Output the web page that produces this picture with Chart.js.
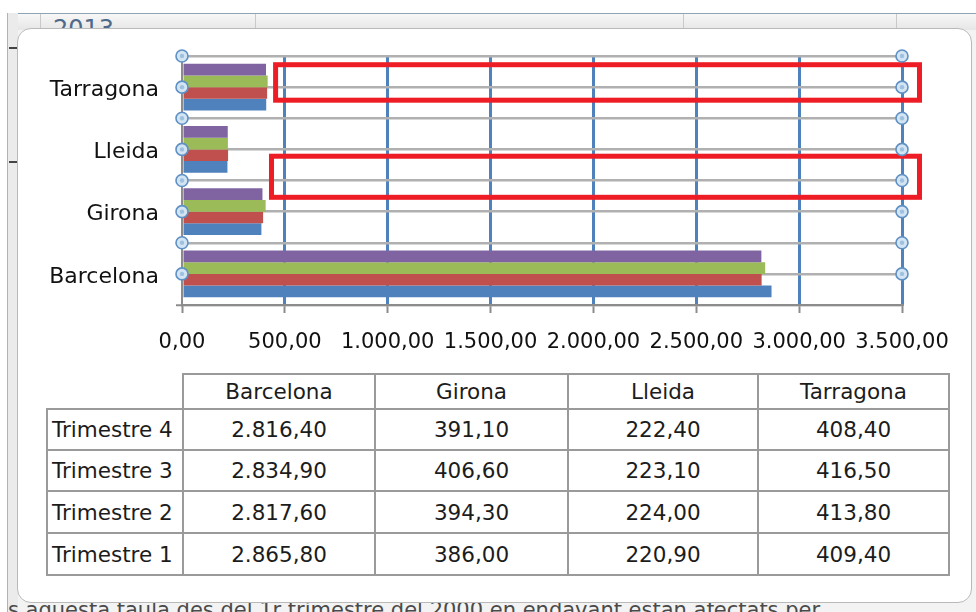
<!DOCTYPE html>
<html>
<head>
<meta charset="utf-8">
<title>Trimestres per província</title>
<script src="https://cdn.jsdelivr.net/npm/chart.js@4.4.0/dist/chart.umd.min.js"></script>
<style>
  html, body { margin: 0; padding: 0; }
  body {
    width: 976px; height: 612px; position: relative; overflow: hidden;
    background: #f3f3f3; font-family: "DejaVu Sans", sans-serif;
  }
  .top-white { position: absolute; left: 0; top: 0; width: 976px; height: 13px; background: #fff; }
  .left-white { position: absolute; left: 0; top: 0; width: 7px; height: 612px; background: #fff; }
  .band {
    position: absolute; left: 7px; top: 13px; width: 969px; height: 16px;
    background: linear-gradient(#f7f7f7, #e6e6e6); border-top: 1px solid #8ea3b3;
  }
  .band .sep { position: absolute; top: 0; width: 1px; height: 16px; background: #c9c9c9; }
  .band .year { position: absolute; left: 46px; top: 1px; font-size: 24px; color: #4d6a8a; line-height: 28px; }
  .strip { position: absolute; left: 7px; top: 13px; width: 10px; height: 599px; background: #ebebeb; border-left: 1px solid #a9b4bd; }
  .strip .mark { position: absolute; left: 1px; width: 8px; height: 2px; background: #444; }
  .note {
    position: absolute; left: 8px; top: 598px; white-space: nowrap;
    font-size: 21px; color: #4a4a4a;
  }
  .frame {
    position: absolute; left: 17px; top: 28px; width: 955px; height: 575px;
    box-sizing: border-box; background: #fff; border: 1px solid #b9b9b9;
    border-radius: 14px; z-index: 1;
  }
  table#dataTable {
    position: absolute; left: 46px; top: 373px; z-index: 2;
    border-collapse: collapse; table-layout: fixed;
    font-size: 21.5px; color: #1c1c1c;
  }
  #dataTable td, #dataTable th {
    border: 2px solid #9a9a9a; text-align: center; font-weight: normal;
    padding: 0; white-space: nowrap; overflow: hidden;
  }
  #dataTable th.blank { border-top: none; border-left: none; }
  #dataTable td.rowhead { text-align: left; padding-left: 4px; }
  canvas#chart { position: absolute; left: 0; top: 0; z-index: 3; }
</style>
</head>
<body>
<div class="top-white"></div>
<div class="left-white"></div>
<div class="band">
  <div class="year">2013</div>
  <div class="sep" style="left:33px"></div>
  <div class="sep" style="left:248px"></div>
  <div class="sep" style="left:676px"></div>
  <div class="sep" style="left:889px"></div>
</div>
<div class="strip">
  <div class="mark" style="top:34px"></div>
  <div class="mark" style="top:148px"></div>
</div>
<div class="note">s aquesta taula des del 1r trimestre del 2000 en endavant estan afectats per</div>
<div class="frame"></div>

<table id="dataTable"></table>
<canvas id="chart" width="976" height="612"></canvas>

<script>
// categories (bottom to top in the chart, left to right in the table)
const cities = ["Barcelona", "Girona", "Lleida", "Tarragona"];

// series, in table order (top row first)
const seriesNames = ["Trimestre 4", "Trimestre 3", "Trimestre 2", "Trimestre 1"];
const trimestre4 = [2816.40, 391.10, 222.40, 408.40];
const trimestre3 = [2834.90, 406.60, 223.10, 416.50];
const trimestre2 = [2817.60, 394.30, 224.00, 413.80];
const trimestre1 = [2865.80, 386.00, 220.90, 409.40];
const seriesColors = ["#8064a2", "#9bbb59", "#c0504d", "#4f81bd"];

// value axis
const xMin = 0;
const xMax = 3500;
const xStep = 500;

// red highlight boxes drawn on the picture (value / category units)
const boxFrom = [455, 435];
const boxTo = [3585, 3585];
const boxTop = [3.36, 1.89];
const boxBottom = [2.79, 1.23];

const allSeries = [trimestre4, trimestre3, trimestre2, trimestre1];
const FONT = "'DejaVu Sans', sans-serif";

// 2816.4 -> "2.816,40"
function fmt(v) {
    const parts = Number(v).toFixed(2).split(".");
    return parts[0].replace(/\B(?=(\d{3})+(?!\d))/g, ".") + "," + parts[1];
}

// --- data table under the chart ---
const colWidths = [136, 192, 193, 190, 191];
const rowHeights = [35, 41, 41, 42, 42];
const table = document.getElementById("dataTable");
let html = "<colgroup>" + colWidths.map(w => `<col style="width:${w}px">`).join("") + "</colgroup>";
html += `<tr style="height:${rowHeights[0]}px"><th class="blank"></th>` +
    cities.map(c => `<th>${c}</th>`).join("") + "</tr>";
seriesNames.forEach((name, i) => {
    html += `<tr style="height:${rowHeights[i + 1]}px"><td class="rowhead">${name}</td>` +
        allSeries[i].map(v => `<td>${fmt(v)}</td>`).join("") + "</tr>";
});
table.innerHTML = html;

// --- selection handles and red boxes ---
const overlayPlugin = {
    id: "overlay",
    afterDatasetsDraw(chart) {
        const { ctx, scales: { x, y } } = chart;
        ctx.save();

        ctx.strokeStyle = "#ee1c24";
        ctx.lineWidth = 5;
        boxFrom.forEach((from, i) => {
            const x0 = x.getPixelForValue(from);
            const x1 = x.getPixelForValue(boxTo[i]);
            const y0 = y.getPixelForValue(boxTop[i]);
            const y1 = y.getPixelForValue(boxBottom[i]);
            ctx.strokeRect(x0, y0, x1 - x0, y1 - y0);
        });

        // handles on every gray line except the bottom one
        const spots = [];
        for (let i = 0; i < cities.length; i++) {
            spots.push(i, i + 0.5);
        }
        [xMin, xMax].forEach(v => {
            const px = x.getPixelForValue(v);
            spots.forEach(s => {
                const py = y.getPixelForValue(s);
                ctx.beginPath();
                ctx.arc(px, py, 6, 0, Math.PI * 2);
                ctx.fillStyle = "#d3e4f3";
                ctx.fill();
                ctx.lineWidth = 1.6;
                ctx.strokeStyle = "#5e90c4";
                ctx.stroke();
                ctx.beginPath();
                ctx.arc(px, py, 2.2, 0, Math.PI * 2);
                ctx.fillStyle = "#9fc1e0";
                ctx.fill();
            });
        });
        ctx.restore();
    }
};

new Chart(document.getElementById("chart"), {
    type: "bar",
    data: {
        labels: cities,
        datasets: seriesNames.map((name, i) => ({
            label: name,
            data: allSeries[i],
            backgroundColor: seriesColors[i],
            borderWidth: 0,
            categoryPercentage: 0.755,
            barPercentage: 1
        }))
    },
    options: {
        indexAxis: "y",
        responsive: false,
        animation: false,
        layout: { padding: { top: 56, right: 74, left: 0, bottom: 0 } },
        plugins: { legend: { display: false }, tooltip: { enabled: false } },
        scales: {
            x: {
                type: "linear",
                min: xMin,
                max: xMax,
                ticks: {
                    stepSize: xStep,
                    autoSkip: false,
                    maxRotation: 0,
                    padding: 17,
                    color: "#111",
                    font: { family: FONT, size: 21 },
                    callback: v => fmt(v)
                },
                grid: {
                    color: c => (c.tick && c.tick.value === xMin ? "rgba(0,0,0,0)" : "#4f81bd"),
                    lineWidth: 3,
                    tickLength: 8,
                    tickColor: "#8c8c8c",
                    tickWidth: 2
                },
                border: { color: "#8c8c8c", width: 2 },
                afterFit: s => { s.height = 307; }
            },
            y: {
                type: "category",
                reverse: true,
                offset: true,
                ticks: { padding: 17, labelOffset: 3, color: "#111", font: { family: FONT, size: 22 } },
                grid: { offset: true, color: "#b0b0b0", lineWidth: 2.5, tickLength: 6, tickColor: "#8c8c8c", tickWidth: 2 },
                border: { color: "#8c8c8c", width: 2 },
                afterFit: s => { s.width = 182; }
            },
            yMid: {
                type: "category",
                axis: "y",
                position: "left",
                reverse: true,
                offset: true,
                ticks: { display: false },
                grid: { offset: false, color: "#b0b0b0", lineWidth: 2.5, drawTicks: false },
                border: { display: false },
                afterFit: s => { s.width = 0; }
            }
        }
    },
    plugins: [overlayPlugin]
});
</script>
</body>
</html>
